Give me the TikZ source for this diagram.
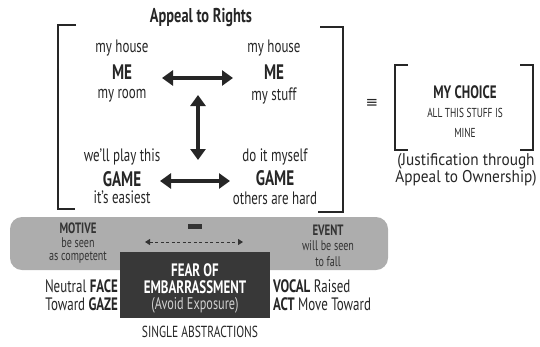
\documentclass[tikz,border=0pt]{standalone}
\usepackage{fontspec}
\setmainfont{PT Sans}[FakeStretch=0.72]
\newfontfamily\widefont{PT Sans}[FakeStretch=0.9]
\newfontfamily\symfont{DejaVu Sans}
\usetikzlibrary{arrows.meta}
\definecolor{ink}{HTML}{262626}
\definecolor{band}{HTML}{ADADAD}
\definecolor{bandink}{HTML}{333333}
\definecolor{boxdark}{HTML}{383838}
\definecolor{softwhite}{HTML}{D0D0D0}

\newcommand{\fs}[1]{\fontsize{#1}{#1}\selectfont}

\begin{document}
\begin{tikzpicture}[x=1pt,y=-1pt,
  lbl/.style={text=ink, inner sep=0pt, anchor=center, font=\fs{18}},
  keyword/.style={lbl, font=\bfseries\fs{21}},
  small/.style={lbl, font=\fs{13}},
  inband/.style={inner sep=0pt, text=bandink, font=\fs{14}},
  inbandkey/.style={inband, font=\bfseries\fs{15}},
  bracket/.style={draw=ink, line width=2.8pt, line cap=butt, line join=miter},
  biarrow/.style={draw=ink, line width=3.8pt,
    {Triangle[length=11pt,width=15pt]}-{Triangle[length=11pt,width=15pt]}},
  dasharrow/.style={draw=bandink, line width=1pt, dash pattern=on 3pt off 2.5pt,
    {Triangle[length=5pt,width=6pt]}-{Triangle[length=5pt,width=6pt]}}]

\useasboundingbox (0,0) rectangle (540,346);

% ---- title and large bracket ----
\node[lbl, font=\bfseries\fs{20}] (title) at (201,18) {Appeal to Rights};
\draw[bracket] (76,25) -- (58,25) -- (58,209) -- (75,209);
\draw[bracket] (320,27) -- (343,27) -- (343,212) -- (318,212);

% ---- four corners ----
\node[lbl] (h1) at (122,48) {my house};
\node[keyword] (me1) at (122,72) {ME};
\node[lbl] (r1) at (122,96) {my room};

\node[lbl] (h2) at (274,48) {my house};
\node[keyword] (me2) at (274,72) {ME};
\node[lbl] (s2) at (274,96) {my stuff};

\node[lbl] (p3) at (122,157) {we'll play this};
\node[keyword] (g3) at (122,179) {GAME};
\node[lbl] (e3) at (122,197) {it's easiest};

\node[lbl] (d4) at (275,157) {do it myself};
\node[keyword] (g4) at (275,178) {GAME};
\node[lbl] (o4) at (275,198) {others are hard};

% ---- arrows between the corners ----
\coordinate (ta) at (162,78);
\coordinate (tb) at (233,78);
\coordinate (va) at (198,95);
\coordinate (vb) at (198,160);
\coordinate (ba) at (160,181);
\coordinate (bb) at (230,181);
\draw[biarrow] (ta) -- (tb);
\draw[biarrow] (va) -- (vb);
\draw[biarrow] (ba) -- (bb);

% ---- equivalence and small bracket ----
\node[inner sep=0pt, text=ink, font=\symfont\fs{15}] (eq) at (372,103) {≡};
\draw[bracket] (408,65) -- (395,65) -- (395,150) -- (408,150);
\draw[bracket] (520,65) -- (533,65) -- (533,150) -- (520,150);
\node[lbl, font=\bfseries\fs{18}] (choice) at (465,92) {MY CHOICE};
\node[small] (all) at (465,113) {ALL THIS STUFF IS};
\node[small] (mine) at (465,133) {MINE};
\node[lbl, align=center, font=\widefont\fontsize{17}{15.5}\selectfont] (just) at (466,170)
  {(Justification through\\Appeal to Ownership)};

% ---- grey band ----
\fill[band, rounded corners=12pt] (10,217) rectangle (388,270);
\node[inbandkey] (motive) at (78,228) {MOTIVE};
\node[inband] (seen) at (78,243) {be seen};
\node[inband] (comp) at (78,258) {as competent};
\node[inbandkey] (event) at (328,230) {EVENT};
\node[inband] (will) at (328,246) {will be seen};
\node[inband] (fall) at (328,262) {to fall};
\node[fill=bandink, minimum width=14pt, minimum height=5pt, inner sep=0pt] (minus) at (195,226) {};
\coordinate (da) at (145,242);
\coordinate (db) at (243,242);
\draw[dasharrow] (da) -- (db);

% ---- dark box ----
\node[fill=boxdark, minimum width=150pt, minimum height=66pt, inner sep=0pt] (fear) at (195,285) {};
\node[inner sep=0pt, text=white, font=\bfseries\fs{18}] (f1) at (195,270) {FEAR OF};
\node[inner sep=0pt, text=white, font=\bfseries\fs{18}] (f2) at (195,287) {EMBARRASSMENT};
\node[inner sep=0pt, text=softwhite, font=\fs{17}] (f3) at (195,305) {(Avoid Exposure)};

% ---- side labels ----
\node[lbl, anchor=east] (face) at (118,286) {Neutral \textbf{FACE}};
\node[lbl, anchor=east] (gaze) at (118,304) {Toward \textbf{GAZE}};
\node[lbl, anchor=west] (vocal) at (273,286) {\textbf{VOCAL} Raised};
\node[lbl, anchor=west] (act) at (273,304) {\textbf{ACT} Move Toward};
\node[lbl, font=\fs{16}] (single) at (200,332) {SINGLE ABSTRACTIONS};
\end{tikzpicture}
\end{document}
